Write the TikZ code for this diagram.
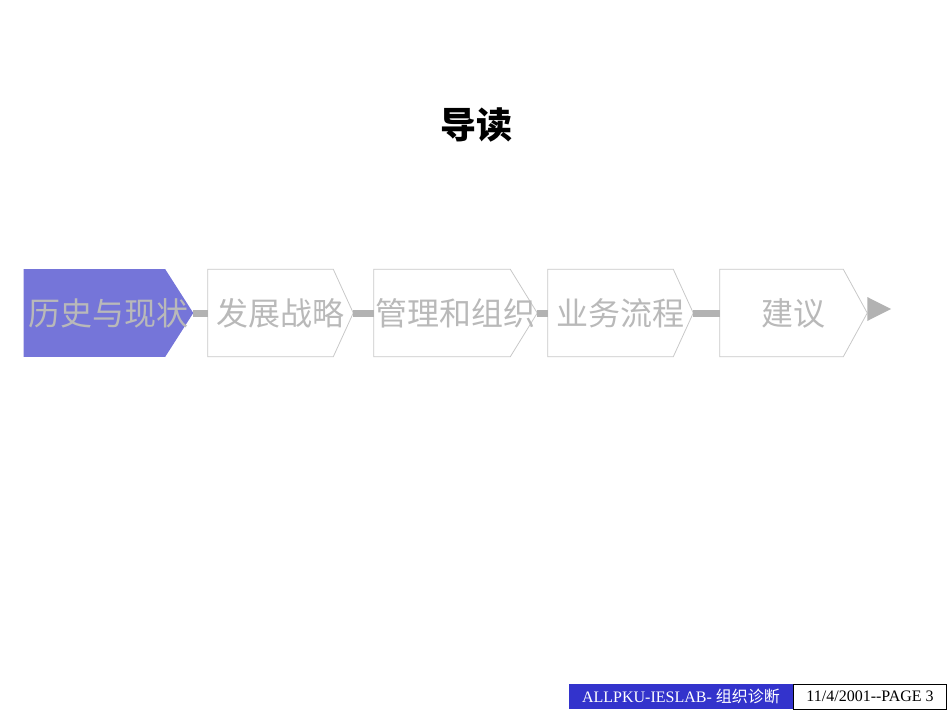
\documentclass[tikz,border=0pt]{standalone}
\usepackage{fontspec}
\setmainfont{Liberation Serif}
\newfontfamily\cjk{Noto Sans CJK SC}
\usetikzlibrary{calc,backgrounds}
\definecolor{stagefill}{RGB}{117,117,217}
\definecolor{stagetext}{RGB}{185,185,185}
\definecolor{stageline}{RGB}{200,200,200}
\definecolor{linkgray}{RGB}{178,178,178}
\definecolor{footblue}{RGB}{51,51,204}
\begin{document}
\begin{tikzpicture}[
    x=0.75pt, y=-0.75pt,
    stage/.style={rectangle, inner sep=0pt, minimum height=65.25pt, font=\cjk\fontsize{24}{24}\selectfont, text=stagetext},
    outline/.style={draw=stageline, line width=0.6pt},
    link/.style={draw=linkgray, line width=5.25pt},
    footer/.style={rectangle, inner sep=0pt, minimum height=18.75pt, font=\fontsize{12}{12}\selectfont}
]
    \useasboundingbox (0,0) rectangle (950,713);

    % Titel
    \node[font=\cjk\bfseries\fontsize{27}{27}\selectfont] (title) at (476,125) {导读};

    % Stages
    \node[stage, minimum width=126.75pt] (history) at (108.5,313) {\raisebox{-1.5pt}{历史与现状}};
    \node[stage, minimum width=108.75pt] (strategy) at (280.5,313) {\raisebox{-1.5pt}{发展战略}};
    \node[stage, minimum width=122.25pt] (manage) at (455.5,313) {\raisebox{-1.5pt}{管理和组织}};
    \node[stage, minimum width=108.75pt] (process) at (620.5,313) {\raisebox{-1.5pt}{业务流程}};
    \node[stage, minimum width=110.25pt] (advice) at (793.5,313) {\raisebox{-1.5pt}{建议}};

    % Outlines behind the text
    \begin{scope}[on background layer]
        \fill[stagefill] (history.north west) -- ($(history.north east)+(-28,0)$) -- (history.east) -- ($(history.south east)+(-28,0)$) -- (history.south west) -- cycle;
        \foreach \n/\t in {strategy/20, manage/27, process/20, advice/24}
            \draw[outline] (\n.north west) -- ($(\n.north east)+(-\t,0)$) -- (\n.east) -- ($(\n.south east)+(-\t,0)$) -- (\n.south west) -- cycle;
    \end{scope}

    % Links between stages
    \draw[link] (history.east) -- (strategy.west);
    \draw[link] (strategy.east) -- (manage.west);
    \draw[link] (manage.east) -- (process.west);
    \draw[link] (process.east) -- (advice.west);

    % End arrow
    \coordinate (endtip) at (891,309);
    \fill[linkgray] (endtip) -- ($(advice.east)+(0,-16)$) -- ($(advice.east)+(0,8)$) -- cycle;

    % Footer
    \node[footer, fill=footblue, text=white, minimum width=168pt] (lab) at (681,696.5) {ALLPKU-IESLAB- {\cjk 组织诊断}};
    \node[footer, draw=black, line width=0.5pt, minimum width=114.75pt, anchor=west] (page) at (lab.east) {11/4/2001{-}{-}PAGE 3};
\end{tikzpicture}
\end{document}
